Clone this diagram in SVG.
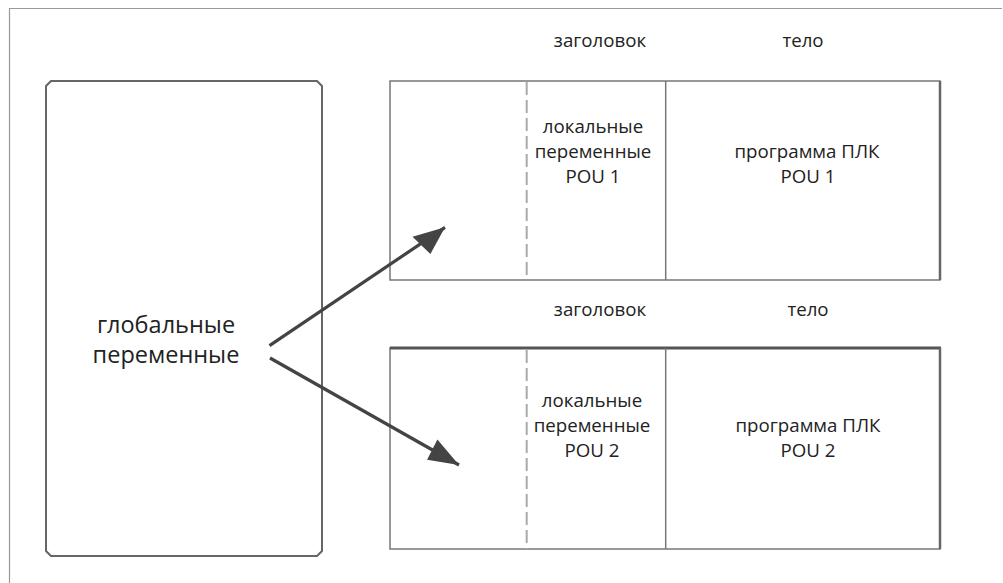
<svg xmlns="http://www.w3.org/2000/svg" width="1003" height="583" viewBox="0 0 1003 583">
<style>
.t{font-family:"Open Sans","Liberation Sans",sans-serif;font-size:18.7px;fill:#222;text-anchor:middle}
.g{font-size:23.5px}
.frame{fill:none;stroke:#999;stroke-width:1.2}
.box{fill:#fff;stroke:#777;stroke-width:1.5}
.edge{fill:none;stroke:#666;stroke-width:2.5}
.dash{fill:none;stroke:#aaa;stroke-width:2;stroke-dasharray:13 5}
.arr{fill:none;stroke:#444;stroke-width:3.2}
</style>
<rect width="1003" height="583" fill="#fff"/>
<path class="frame" d="M9.5,583 V8.5 H1002"/>
<g id="global">
<path d="M51,81 H317 L322,86 V551 L317,556 H51 L46,551 V86 Z" fill="#fff" stroke="#666" stroke-width="2"/>
<text class="t g" x="166" y="333">глобальные</text>
<text class="t g" x="166" y="363">переменные</text>
</g>
<g id="pou1">
<rect class="box" x="390" y="81" width="550" height="199"/>
<line class="edge" x1="940" y1="81" x2="940" y2="280"/>
<line class="dash" x1="526.7" y1="82" x2="526.7" y2="280"/>
<line x1="665.7" y1="81" x2="665.7" y2="280" stroke="#777" stroke-width="1.5"/>
<text class="t" x="600" y="47">заголовок</text>
<text class="t" x="803" y="47">тело</text>
<text class="t" x="593" y="133">локальные</text>
<text class="t" x="593" y="158">переменные</text>
<text class="t" x="593" y="183">POU 1</text>
<text class="t" x="807" y="158">программа ПЛК</text>
<text class="t" x="808" y="183">POU 1</text>
</g>
<g id="pou2">
<rect class="box" x="390" y="348" width="550" height="201"/>
<line x1="390" y1="348" x2="941" y2="348" stroke="#555" stroke-width="3"/>
<line class="edge" x1="940" y1="348" x2="940" y2="549"/>
<line class="dash" x1="526.7" y1="350" x2="526.7" y2="549"/>
<line x1="665.7" y1="348" x2="665.7" y2="549" stroke="#777" stroke-width="1.5"/>
<text class="t" x="600" y="316">заголовок</text>
<text class="t" x="808" y="316">тело</text>
<text class="t" x="592" y="407">локальные</text>
<text class="t" x="592" y="432">переменные</text>
<text class="t" x="592" y="457">POU 2</text>
<text class="t" x="808" y="432">программа ПЛК</text>
<text class="t" x="808" y="457">POU 2</text>
</g>
<g id="connectors">
<path d="M269.5,345.7 L445,227.3" class="arr"/>
<path d="M445,227.3 L412.5,236.7 L430.4,253.9 Z" fill="#444"/>
<path d="M270,358 L459,465" class="arr"/>
<path d="M459,465 L437.4,439.6 L427.1,459.7 Z" fill="#444"/>
</g>
</svg>
